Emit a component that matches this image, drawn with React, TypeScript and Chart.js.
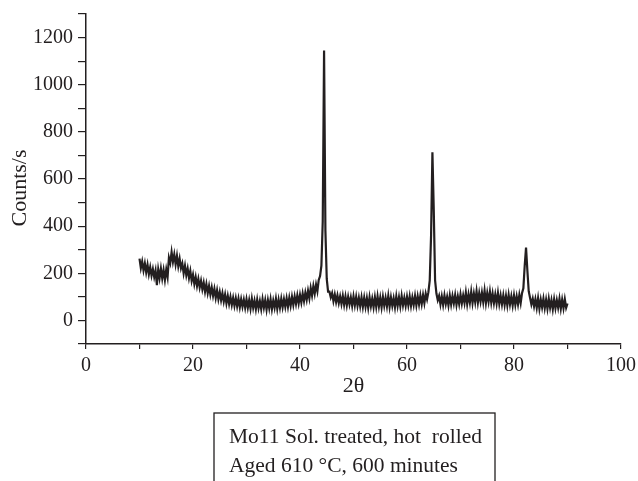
import React, { useEffect, useRef } from "react";
import { Chart, registerables } from "chart.js";

Chart.register(...registerables);

// Scan parameters (2θ from 10° to 90°, step 0.25°)
const scanStart = 10;
const scanStep = 0.25;

const counts: number[] = [
  262, 222, 250, 212, 242, 204, 236, 196, // 10
  226, 190, 218, 184, 212, 150, 216, 180, // 12
  220, 178, 214, 172, 216, 184, 266, 244, // 14
  290, 248, 280, 238, 274, 230, 262, 222, // 16
  242, 200, 232, 192, 220, 180, 210, 168, // 18
  194, 154, 184, 146, 176, 140, 168, 132, // 20
  160, 122, 154, 116, 146, 110, 140, 104, // 22
  134, 96, 128, 90, 120, 86, 116, 80, // 24
  110, 72, 104, 70, 100, 66, 96, 62, // 26
  94, 60, 92, 56, 90, 58, 88, 54, // 28
  90, 54, 86, 50, 92, 54, 84, 48, // 30
  88, 52, 82, 48, 90, 54, 86, 46, // 32
  86, 52, 90, 48, 84, 54, 92, 50, // 34
  88, 54, 92, 56, 90, 58, 94, 58, // 36
  96, 62, 100, 66, 102, 70, 106, 72, // 38
  108, 76, 114, 82, 118, 88, 126, 94, // 40
  138, 106, 146, 114, 152, 124, 172, 188, // 42
  232, 420, 1145, 380, 176, 122, 122, 98, // 44
  116, 82, 110, 78, 106, 74, 102, 70, // 46
  104, 66, 102, 64, 100, 68, 98, 62, // 48
  102, 64, 100, 62, 96, 60, 98, 58, // 50
  96, 58, 94, 54, 98, 60, 92, 56, // 52
  98, 58, 102, 60, 96, 56, 100, 62, // 54
  96, 60, 104, 58, 98, 62, 94, 56, // 56
  102, 62, 98, 60, 104, 64, 96, 62, // 58
  100, 64, 102, 62, 98, 66, 104, 64, // 60
  102, 68, 106, 70, 108, 74, 114, 90, // 62
  120, 170, 360, 713, 470, 170, 114, 86, // 64
  104, 68, 102, 66, 106, 70, 100, 64, // 66
  106, 68, 104, 72, 108, 66, 102, 70, // 68
  110, 72, 106, 74, 118, 70, 110, 76, // 70
  122, 74, 114, 78, 124, 76, 116, 80, // 72
  118, 78, 126, 74, 116, 80, 122, 76, // 74
  114, 74, 110, 72, 116, 70, 106, 68, // 76
  106, 66, 104, 64, 108, 68, 102, 64, // 78
  106, 66, 102, 68, 108, 74, 116, 136, // 80
  232, 309, 212, 124, 96, 68, 92, 60, // 82
  90, 54, 94, 50, 88, 56, 92, 52, // 84
  88, 50, 92, 54, 86, 48, 90, 52, // 86
  86, 54, 92, 50, 88, 52, 90, 54, // 88
  72, // 90
];

const xMin = 0;
const xMax = 100;
const yMin = -100;
const yMax = 1300;
const xLabelStep = 20;
const yLabelStep = 200;
const yLabelMax = 1200;

const xTitle = "2θ";
const yTitle = "Counts/s";
const noteLines = ["Mo11 Sol. treated, hot  rolled", "Aged 610 °C, 600 minutes"];

const INK = "#231f20";
const FONT = "'Liberation Serif', 'Times New Roman', serif";

export default function App() {
  const ref = useRef<HTMLCanvasElement | null>(null);

  useEffect(() => {
    if (!ref.current) return;
    const points = counts.map((c, i) => ({ x: scanStart + i * scanStep, y: c }));

    const textPlugin = {
      id: "extraText",
      afterDraw(chart: any) {
        const ctx = chart.ctx;
        ctx.save();
        ctx.fillStyle = INK;
        // y axis title
        ctx.font = `22px ${FONT}`;
        ctx.textAlign = "center";
        ctx.textBaseline = "middle";
        ctx.translate(20, 188);
        ctx.rotate(-Math.PI / 2);
        ctx.fillText(yTitle, 0, 0);
        ctx.restore();

        ctx.save();
        ctx.strokeStyle = INK;
        ctx.lineWidth = 1.3;
        ctx.strokeRect(214, 413, 281, 100);
        ctx.fillStyle = INK;
        ctx.font = `21.5px ${FONT}`;
        ctx.textBaseline = "alphabetic";
        ctx.textAlign = "left";
        ctx.fillText(noteLines[0], 229, 443);
        ctx.fillText(noteLines[1], 229, 472);
        ctx.restore();
      },
    };

    const chart = new Chart(ref.current, {
      type: "scatter",
      data: {
        datasets: [
          {
            data: points,
            showLine: true,
            borderColor: INK,
            borderWidth: 2.2,
            pointRadius: 0,
            tension: 0,
          },
        ],
      },
      options: {
        animation: false,
        responsive: false,
        events: [],
        layout: { padding: { top: 14, right: 17, left: 0, bottom: 0 } },
        plugins: { legend: { display: false }, tooltip: { enabled: false } },
        scales: {
          x: {
            type: "linear",
            min: xMin,
            max: xMax,
            afterFit: (s: any) => {
              s.height = 137;
              s.paddingLeft = 0;
              s.paddingRight = 0;
            },
            ticks: {
              stepSize: 10,
              autoSkip: false,
              maxRotation: 0,
              padding: 5,
              color: INK,
              font: { family: FONT, size: 20 },
              callback: (v: any) => (Number(v) % xLabelStep === 0 ? String(v) : ""),
            },
            grid: { drawOnChartArea: false, drawTicks: true, tickLength: 5, color: INK, lineWidth: 1.2 },
            border: { display: true, color: INK, width: 1.5 },
            title: {
              display: true,
              text: xTitle,
              color: INK,
              font: { family: FONT, size: 22 },
              padding: { top: 0, bottom: 82 },
            },
          },
          y: {
            type: "linear",
            min: yMin,
            max: yMax,
            afterFit: (s: any) => {
              s.width = 86;
              s.paddingTop = 0;
              s.paddingBottom = 0;
            },
            ticks: {
              stepSize: 100,
              autoSkip: false,
              padding: 5,
              color: INK,
              font: { family: FONT, size: 20 },
              callback: (v: any) => {
                const n = Number(v);
                return n % yLabelStep === 0 && n >= 0 && n <= yLabelMax ? String(n) : "";
              },
            },
            grid: { drawOnChartArea: false, drawTicks: true, tickLength: 8, color: INK, lineWidth: 1.2 },
            border: { display: true, color: INK, width: 1.5 },
          },
        },
      },
      plugins: [textPlugin],
    });
    return () => chart.destroy();
  }, []);

  return (
    <div style={{ position: "fixed", left: 0, top: 0, width: 638, height: 481, background: "#fff" }}>
      <canvas ref={ref} width={638} height={481} />
    </div>
  );
}
